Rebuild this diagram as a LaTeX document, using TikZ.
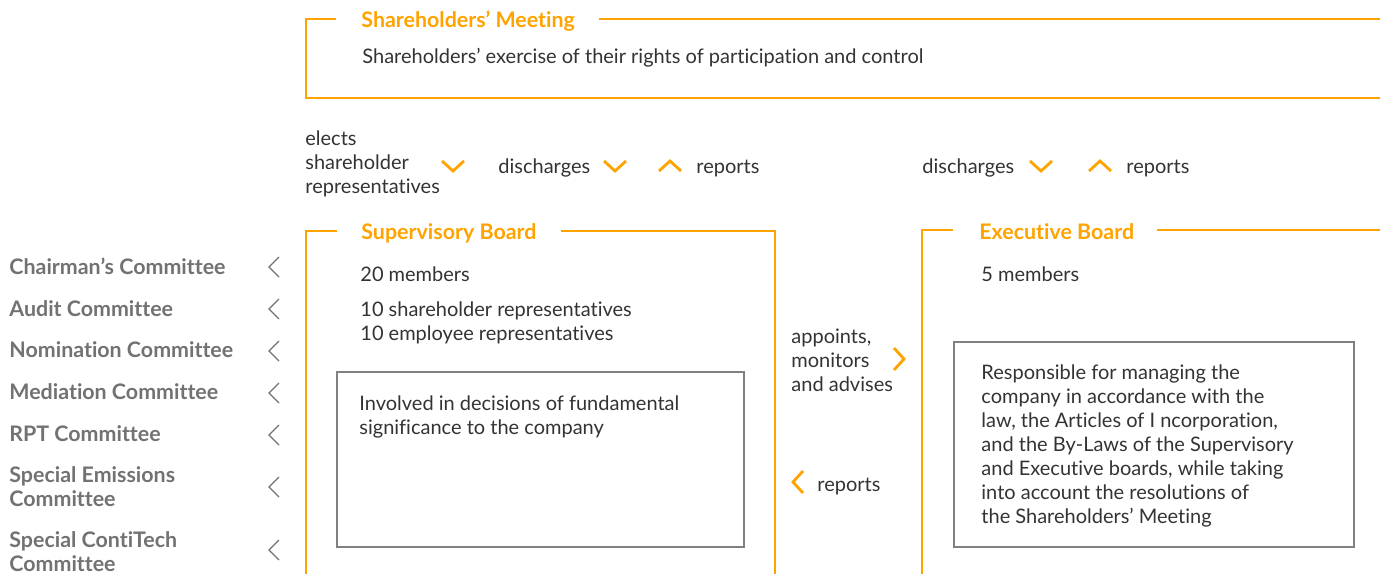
\documentclass[tikz,border=0pt]{standalone}
\usepackage{fontspec}
\setmainfont{Lato}[Ligatures={NoCommon}]
\definecolor{org}{HTML}{FFA300}
\definecolor{txt}{HTML}{333333}
\definecolor{cmt}{HTML}{727272}
\definecolor{boxg}{HTML}{808080}
\tikzset{
  frame/.style={draw=org, line width=1pt},
  titletext/.style={anchor=base west, inner sep=0pt, text=org, font=\fontsize{10.7}{12}\selectfont\bfseries},
  body/.style={anchor=base west, inner sep=0pt, text=txt, font=\fontsize{10}{12}\selectfont, align=left},
  cmtext/.style={anchor=base west, inner sep=0pt, text=cmt, font=\fontsize{10.7}{12}\selectfont\bfseries, align=left},
  infobox/.style={draw=boxg, line width=1pt},
  ochev/.style={draw=org, line width=1.4pt, line join=miter},
  gchev/.style={draw=cmt, line width=0.6pt, line join=miter},
  pics/chevdown/.style={code={\draw[ochev] (-11,-5) -- (0,5) -- (11,-5);}},
  pics/chevup/.style={code={\draw[ochev] (-11,5) -- (0,-5) -- (11,5);}},
  pics/chevright/.style={code={\draw[ochev] (-5,-11) -- (5,0) -- (-5,11);}},
  pics/chevleft/.style={code={\draw[ochev] (5,-11) -- (-5,0) -- (5,11);}},
  pics/gchevleft/.style={code={\draw[gchev] (5,-10) -- (-5,0) -- (5,10);}},
}
\begin{document}
\begin{tikzpicture}[x=0.5pt,y=-0.5pt]
\useasboundingbox (0,0) rectangle (1380,574);

% Shareholders' Meeting
\draw[frame] (336,19) -- (306,19) -- (306,98) -- (1380,98);
\draw[frame] (599,19) -- (1380,19);
\node[titletext] (smt) at (361,27) {Shareholders’ Meeting};
\node[body] (smb) at (362,63) {Shareholders’ exercise of their rights of participation and control};

% middle row (multi-line nodes: position = baseline of last line)
\node[body] (elects) at (305,193) {elects\\shareholder\\representatives};
\pic at (453,166) {chevdown};
\node[body] (dis1) at (498,173) {discharges};
\pic at (615,166) {chevdown};
\pic at (670,166) {chevup};
\node[body] (rep1) at (696,173) {reports};
\node[body] (dis2) at (922,173) {discharges};
\pic at (1041,166) {chevdown};
\pic at (1100,166) {chevup};
\node[body] (rep2) at (1126,173) {reports};

% Supervisory Board
\draw[frame] (337,231) -- (306,231) -- (306,574);
\draw[frame] (561,231) -- (775,231) -- (775,574);
\node[titletext] (sbt) at (361,239) {Supervisory Board};
\node[body] (sb20) at (360,281) {20 members};
\node[body] (sb10) at (360,340) {10 shareholder representatives\\10 employee representatives};
\draw[infobox] (337,372) rectangle (744,547);
\node[body] (sbinfo) at (359,434) {Involved in decisions of fundamental\\significance to the company};

% between boards
\node[body] (app) at (791,391) {appoints,\\monitors\\and advises};
\pic at (899,359) {chevright};
\pic at (798,482) {chevleft};
\node[body] (rep3) at (817,491) {reports};

% Executive Board
\draw[frame] (953,230) -- (922,230) -- (922,574);
\draw[frame] (1157,230) -- (1380,230);
\node[titletext] (ebt) at (979,239) {Executive Board};
\node[body] (eb5) at (981,281) {5 members};
\draw[infobox] (954,342) rectangle (1354,547);
\node[body] (ebinfo) at (981,523) {Responsible for managing the\\company in accordance with the\\law, the Articles of I ncorporation,\\and the By-Laws of the Supervisory\\and Executive boards, while taking\\into account the resolutions of\\the Shareholders’ Meeting};

% committees
\node[cmtext] (c1) at (9,274) {Chairman’s Committee};
\node[cmtext] (c2) at (9,316) {Audit Committee};
\node[cmtext] (c3) at (9,357) {Nomination Committee};
\node[cmtext] (c4) at (9,399) {Mediation Committee};
\node[cmtext] (c5) at (9,441) {RPT Committee};
\node[cmtext] (c6) at (9,506) {Special Emissions\\Committee};
\node[cmtext] (c7) at (9,571) {Special ContiTech\\Committee};
\pic at (274,267) {gchevleft};
\pic at (274,309) {gchevleft};
\pic at (274,351) {gchevleft};
\pic at (274,393) {gchevleft};
\pic at (274,435) {gchevleft};
\pic at (274,487) {gchevleft};
\pic at (274,550) {gchevleft};
\end{tikzpicture}
\end{document}
